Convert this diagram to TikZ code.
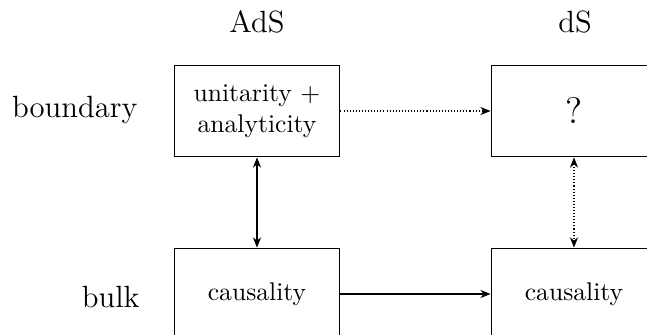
\documentclass[tikz,border=0pt]{standalone}
\usetikzlibrary{arrows.meta}
\begin{document}
\begin{tikzpicture}[x=0.390625pt,y=-0.390625pt,
  box/.style={draw,line width=0.4pt,minimum width=64.8pt,minimum height=35.9pt,inner sep=0pt,align=center},
  lbl/.style={font=\large,inner sep=0pt},
  conn/.style={line width=0.4pt,-{Stealth[length=4pt,width=3.2pt]}},
  dconn/.style={line width=0.4pt,{Stealth[length=4pt,width=3.2pt]}-{Stealth[length=4pt,width=3.2pt]}}]
\useasboundingbox (0,0) rectangle (647,335);
\clip (0,0) rectangle (647,335);
\node[lbl] (ads) at (257,22) {AdS};
\node[lbl] (ds) at (575,22) {dS};
\node[lbl,anchor=east] (bd) at (138,110) {boundary};
\node[lbl,anchor=east] (bk) at (140,297) {bulk};
\node[box] (tl) at (257,111) {unitarity +\\analyticity};
\node[box] (tr) at (574,111) {\Large ?};
\node[box] (bl) at (257,294) {causality};
\node[box] (br) at (574,294) {causality};
\draw[conn,dash pattern=on 0.4pt off 0.8pt] (tl) -- (tr);
\draw[conn] (bl) -- (br);
\draw[dconn] (tl) -- (bl);
\draw[dconn,dash pattern=on 0.4pt off 0.8pt] (tr) -- (br);
\end{tikzpicture}
\end{document}
